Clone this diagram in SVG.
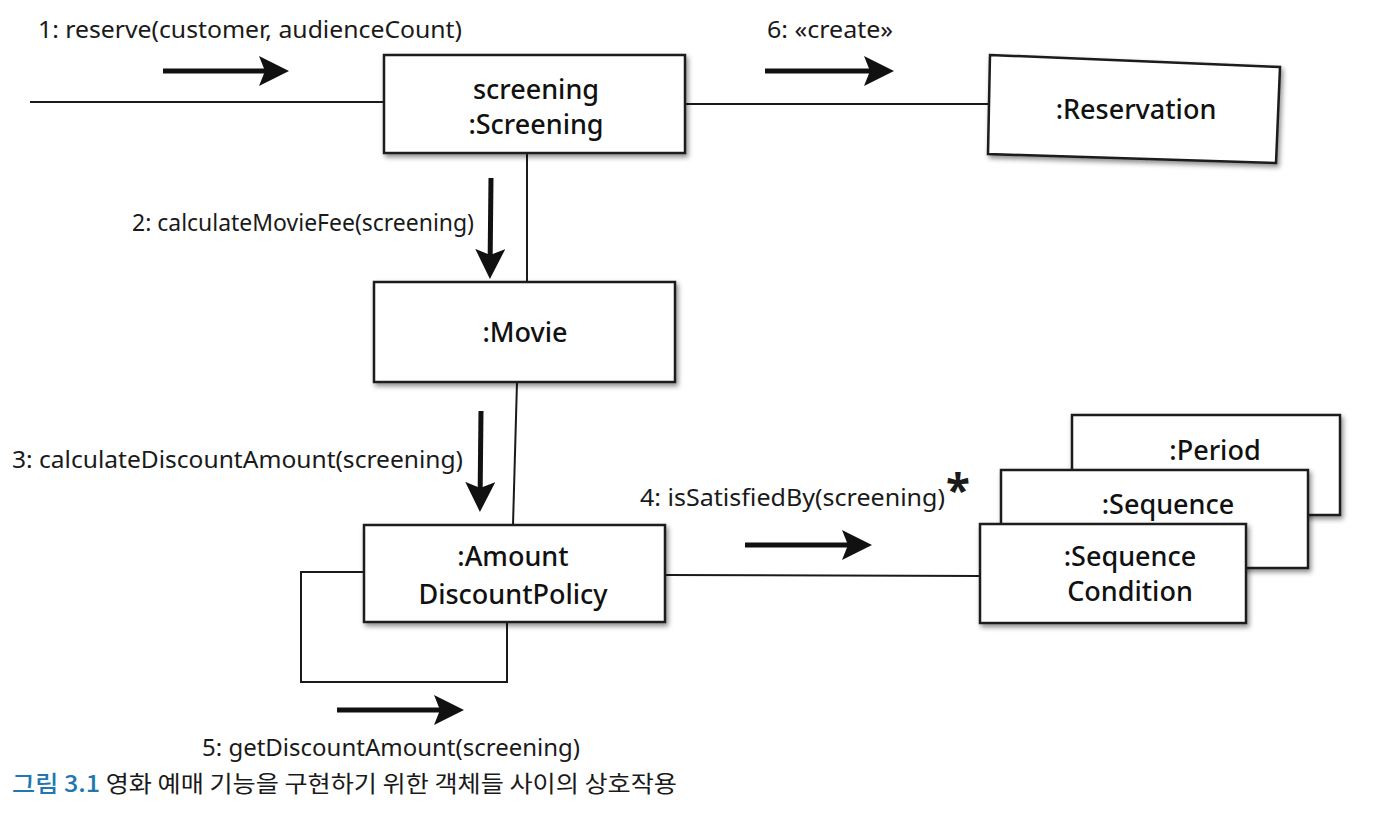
<svg xmlns="http://www.w3.org/2000/svg" width="1386" height="828" viewBox="0 0 1386 828">
<style>
.box{fill:#fff;stroke:#1a1a1a;stroke-width:2.5;filter:url(#sh)}
.ln{fill:none;stroke:#1a1a1a;stroke-width:2}
.msg{stroke:#111;stroke-width:5;marker-end:url(#ah);fill:none}
.lbl{font-family:"Noto Sans",sans-serif;font-size:23px;fill:#1a1a1a}
.star{font-family:"Noto Sans",sans-serif;font-size:44px;font-weight:bold;fill:#1a1a1a}
.nt{font-family:"Noto Sans",sans-serif;font-size:27px;font-weight:500;fill:#111;text-anchor:middle}
.cap{font-family:"Noto Sans CJK KR","Noto Sans",sans-serif;font-size:23px;fill:#1a1a1a}
</style>
<defs>
<filter id="sh" x="-10%" y="-10%" width="125%" height="130%">
<feDropShadow dx="2" dy="3" stdDeviation="2.5" flood-color="#000" flood-opacity="0.45"/>
</filter>
<marker id="ah" markerWidth="6" markerHeight="6" refX="4.6" refY="3" orient="auto" markerUnits="strokeWidth" viewBox="0 0 6 6">
<path d="M0,0 L6,3 L0,6 L1.2,3 z" fill="#111"/>
</marker>
</defs>
<rect width="1386" height="828" fill="#fff"/>
<g id="connectors">
<line class="ln" x1="30" y1="102" x2="385" y2="102"/>
<line class="ln" x1="685" y1="104" x2="990" y2="104"/>
<line class="ln" x1="527" y1="153" x2="527" y2="283"/>
<line class="ln" x1="517" y1="382" x2="513" y2="525"/>
<line class="ln" x1="665" y1="575" x2="982" y2="576"/>
<polyline class="ln" points="363,572 301,572 301,682 507,682 507,622"/>
<line class="msg" x1="163" y1="71" x2="282" y2="71"/>
<line class="msg" x1="765" y1="71" x2="887" y2="71"/>
<line class="msg" x1="491" y1="178" x2="490" y2="272"/>
<line class="msg" x1="481" y1="411" x2="480" y2="505"/>
<line class="msg" x1="745" y1="545" x2="865" y2="545"/>
<line class="msg" x1="337" y1="710" x2="457" y2="710"/>
<text class="lbl" x="38" y="38" textLength="424" lengthAdjust="spacingAndGlyphs">1: reserve(customer, audienceCount)</text>
<text class="lbl" x="767" y="38" textLength="126" lengthAdjust="spacingAndGlyphs">6: «create»</text>
<text class="lbl" x="132" y="231" textLength="342" lengthAdjust="spacingAndGlyphs">2: calculateMovieFee(screening)</text>
<text class="lbl" x="12" y="468" textLength="451" lengthAdjust="spacingAndGlyphs">3: calculateDiscountAmount(screening)</text>
<text class="lbl" x="640" y="506" textLength="305" lengthAdjust="spacingAndGlyphs">4: isSatisfiedBy(screening)</text>
<text class="star" x="946" y="506">*</text>
<text class="lbl" x="202" y="756" textLength="378" lengthAdjust="spacingAndGlyphs">5: getDiscountAmount(screening)</text>
</g>
<g id="screening">
<rect class="box" x="384" y="55" width="301" height="98"/>
<text class="nt" x="536" y="99">screening</text>
<text class="nt" x="536" y="134">:Screening</text>
</g>
<g id="reservation">
<polygon class="box" points="990,55 1280,67 1276,163 988,154"/>
<text class="nt" x="1136" y="119">:Reservation</text>
</g>
<g id="movie">
<rect class="box" x="374" y="282" width="301" height="100"/>
<text class="nt" x="525" y="342">:Movie</text>
</g>
<g id="amountDiscountPolicy">
<rect class="box" x="364" y="525" width="301" height="97"/>
<text class="nt" x="513" y="566">:Amount</text>
<text class="nt" x="513" y="604">DiscountPolicy</text>
</g>
<g id="period">
<rect class="box" x="1072" y="415" width="268" height="100"/>
<text class="nt" x="1215" y="460">:Period</text>
</g>
<g id="sequence">
<rect class="box" x="1001" y="470" width="307" height="98"/>
<text class="nt" x="1168" y="514">:Sequence</text>
</g>
<g id="sequenceCondition">
<rect class="box" x="980" y="524" width="266" height="99"/>
<text class="nt" x="1130" y="566">:Sequence</text>
<text class="nt" x="1130" y="601">Condition</text>
</g>
<g id="caption">
<text class="cap" x="12" y="792" textLength="665" lengthAdjust="spacingAndGlyphs"><tspan fill="#2277b0" font-weight="500">그림 3.1</tspan> 영화 예매 기능을 구현하기 위한 객체들 사이의 상호작용</text>
</g>
</svg>
